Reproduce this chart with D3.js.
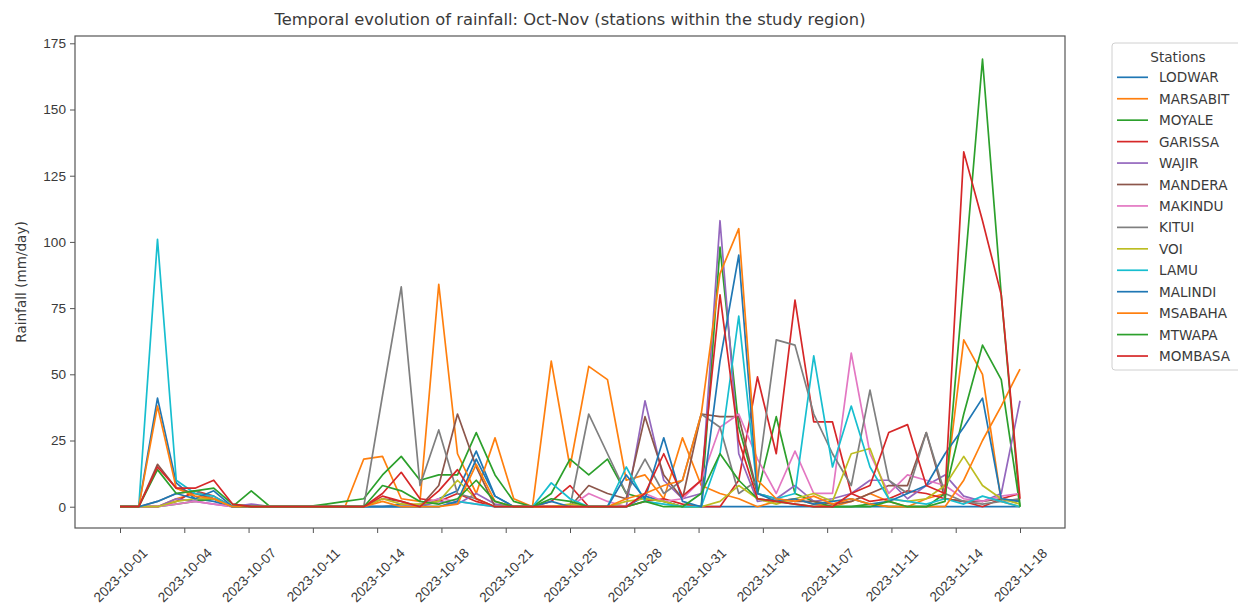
<!DOCTYPE html>
<html>
<head>
<meta charset="utf-8">
<script src="https://cdn.jsdelivr.net/npm/d3@7"></script>
<style>
  html, body { margin: 0; padding: 0; background: #fff; }
  svg { display: block; font-family: "DejaVu Sans", sans-serif; }
</style>
</head>
<body>
<svg id="chart" width="1238" height="609"></svg>
<script>
// ---------------- DATA ----------------
const dates = [
  "2023-10-01","2023-10-02","2023-10-03","2023-10-04","2023-10-05","2023-10-06","2023-10-07",
  "2023-10-08","2023-10-09","2023-10-10","2023-10-11","2023-10-12","2023-10-13","2023-10-14",
  "2023-10-15","2023-10-16","2023-10-17","2023-10-18","2023-10-19","2023-10-20","2023-10-21",
  "2023-10-22","2023-10-23","2023-10-24","2023-10-25","2023-10-26","2023-10-27","2023-10-28",
  "2023-10-29","2023-10-30","2023-10-31","2023-11-01","2023-11-02","2023-11-03","2023-11-04",
  "2023-11-05","2023-11-06","2023-11-07","2023-11-08","2023-11-09","2023-11-10","2023-11-11",
  "2023-11-12","2023-11-13","2023-11-14","2023-11-15","2023-11-16","2023-11-17","2023-11-18"
];

const stations = ["LODWAR","MARSABIT","MOYALE","GARISSA","WAJIR","MANDERA","MAKINDU",
                  "KITUI","VOI","LAMU","MALINDI","MSABAHA","MTWAPA","MOMBASA"];

const LODWAR   = [0,0,41,9,3,2,0, 0,0,0,0,0,0,0, 0,1,0,3,6,21,4, 0,0,0,0,0,0,0, 4,2,0,0,0,0,0, 0,0,0,0,0,0,0, 0,0,0,0,0,0,0];
const MARSABIT = [0,0,0,3,5,3,0, 0,0,0,0,0,0,18, 19,3,2,84,20,5,26, 3,0,55,15,53,48,10, 12,3,26,8,5,3,0, 2,3,1,0,2,5,2, 0,3,5,63,50,2,0];
const MOYALE   = [0,0,0,1,2,3,0, 6,0,0,0,1,2,3, 12,19,10,12,12,28,12, 2,0,5,18,12,18,5, 3,2,0,0,98,30,5, 34,5,2,0,0,1,0, 0,0,5,35,61,48,0];
const GARISSA  = [0,0,0,2,6,4,0, 0,0,0,0,0,0,0, 5,13,3,2,5,2,0, 0,0,2,8,0,0,0, 2,3,1,0,0,10,49, 20,78,32,32,5,2,3, 6,5,3,2,0,3,5];
const WAJIR    = [0,0,0,3,2,1,0, 1,0,0,0,0,0,0, 0,0,0,2,1,5,1, 0,0,0,0,0,0,0, 40,10,3,5,108,20,2, 3,8,2,3,5,10,10, 3,8,12,4,2,5,40];
const MANDERA  = [0,0,16,7,5,3,0, 0,0,0,0,0,0,0, 3,2,0,8,35,15,0, 0,0,0,0,8,5,3, 34,12,3,35,34,34,5, 3,2,2,1,2,5,8, 8,28,3,2,2,3,2];
const MAKINDU  = [0,0,0,1,2,1,0, 0,0,0,0,0,0,0, 0,0,1,3,2,1,0, 0,0,0,0,5,2,0, 5,2,3,10,30,35,18, 5,21,5,5,58,20,5, 12,10,8,3,2,4,5];
const KITUI    = [0,0,2,5,6,3,0, 0,0,0,0,0,0,0, 42,83,8,29,5,3,0, 0,0,0,0,35,20,5, 18,5,10,35,30,5,10, 63,61,35,20,8,44,10, 5,28,5,2,1,2,3];
const VOI      = [0,0,0,2,3,3,0, 0,0,0,0,0,0,0, 3,1,1,2,10,3,0, 0,0,0,1,0,0,2, 3,2,0,0,2,8,3, 1,3,5,2,20,22,3, 2,3,8,19,8,3,1];
const LAMU     = [0,0,101,10,5,4,0, 0,0,0,0,0,0,0, 0,0,0,0,2,1,0, 0,0,9,3,0,0,15, 2,1,0,0,20,72,5, 3,5,57,15,38,15,3, 2,1,3,1,4,2,0];
const MALINDI  = [0,0,2,5,3,6,0, 0,0,0,0,0,0,0, 0,0,0,0,2,18,4, 0,0,2,0,0,0,12, 3,26,2,0,55,95,5, 2,3,1,2,3,1,2, 5,8,20,30,41,3,2];
const MSABAHA  = [0,0,38,7,4,3,0, 0,0,0,0,0,0,0, 2,0,0,0,1,16,2, 0,0,0,0,0,0,3, 5,8,10,35,88,105,10, 3,2,4,1,3,1,0, 0,0,0,10,25,38,52];
const MTWAPA   = [0,0,14,5,6,7,1, 0,0,0,0,0,0,0, 8,6,2,1,3,10,2, 0,0,3,2,0,0,0, 2,0,0,5,20,10,3, 2,1,0,0,0,0,2, 0,0,2,85,169,80,0];
const MOMBASA  = [0,0,15,7,7,10,1, 0,0,0,0,0,0,0, 4,2,0,6,14,3,0, 0,0,0,0,0,0,0, 5,20,4,10,80,25,3, 2,1,0,0,5,8,28, 31,8,5,134,108,80,3];

const seriesValues = [LODWAR, MARSABIT, MOYALE, GARISSA, WAJIR, MANDERA, MAKINDU,
                      KITUI, VOI, LAMU, MALINDI, MSABAHA, MTWAPA, MOMBASA];

const tickLabels = ["2023-10-01","2023-10-04","2023-10-07","2023-10-11","2023-10-14",
                    "2023-10-18","2023-10-21","2023-10-25","2023-10-28","2023-10-31",
                    "2023-11-04","2023-11-07","2023-11-11","2023-11-14","2023-11-18"];
const yTicks = [0, 25, 50, 75, 100, 125, 150, 175];

const palette = ["#1f77b4","#ff7f0e","#2ca02c","#d62728","#9467bd",
                 "#8c564b","#e377c2","#7f7f7f","#bcbd22","#17becf"];

// ---------------- CHART ----------------
const svg = d3.select("#chart");
const M = {left: 75, right: 1065, top: 36, bottom: 528};
const FS = 13.6;

const parse = d3.utcParse("%Y-%m-%d");
const dateObjs = dates.map(parse);
const t0 = dateObjs[0], t1 = dateObjs[dateObjs.length - 1];
const span = t1 - t0;
const x = d3.scaleUtc()
  .domain([new Date(+t0 - span * 0.05), new Date(+t1 + span * 0.05)])
  .range([M.left, M.right]);
const y = d3.scaleLinear().domain([-8.04, 177.76]).range([M.bottom, M.top]);

// tick positions: evenly spaced across the data range
const tickVals = tickLabels.map((_, i) => new Date(+t0 + span * i / (tickLabels.length - 1)));

// lines
const line = d3.line().x((d, i) => x(dateObjs[i])).y(d => y(d));
const g = svg.append("g");
stations.forEach((s, k) => {
  g.append("path")
    .datum(seriesValues[k])
    .attr("d", line)
    .attr("fill", "none")
    .attr("stroke", palette[k % 10])
    .attr("stroke-width", 1.7)
    .attr("stroke-linejoin", "round");
});

// frame
svg.append("rect")
  .attr("x", M.left).attr("y", M.top)
  .attr("width", M.right - M.left).attr("height", M.bottom - M.top)
  .attr("fill", "none").attr("stroke", "#555").attr("stroke-width", 1.2);

// x axis
const xAxis = d3.axisBottom(x).tickValues(tickVals)
  .tickFormat((d, i) => tickLabels[i]).tickSize(5).tickPadding(3);
const gx = svg.append("g").attr("transform", `translate(0,${M.bottom})`).call(xAxis);
gx.select(".domain").remove();
gx.selectAll(".tick line").attr("stroke", "#555");
gx.selectAll(".tick text")
  .attr("font-size", FS).attr("fill", "#3a3a3a")
  .attr("text-anchor", "middle")
  .attr("dy", "0.35em")
  .attr("x", 0).attr("y", 0)
  .attr("transform", "translate(0,47) rotate(-45)");

// y axis
const yAxis = d3.axisLeft(y).tickValues(yTicks).tickSize(5).tickPadding(4);
const gy = svg.append("g").attr("transform", `translate(${M.left},0)`).call(yAxis);
gy.select(".domain").remove();
gy.selectAll(".tick line").attr("stroke", "#555");
gy.selectAll(".tick text").attr("font-size", FS).attr("fill", "#3a3a3a");

// title
svg.append("text")
  .attr("x", (M.left + M.right) / 2).attr("y", 25)
  .attr("text-anchor", "middle").attr("font-size", FS * 1.2).attr("fill", "#3a3a3a")
  .text("Temporal evolution of rainfall: Oct-Nov (stations within the study region)");

// y label
svg.append("text")
  .attr("transform", `translate(26,${(M.top + M.bottom) / 2}) rotate(-90)`)
  .attr("text-anchor", "middle").attr("font-size", FS).attr("fill", "#3a3a3a")
  .text("Rainfall  (mm/day)");

// legend
const lg = svg.append("g");
lg.append("rect").attr("x", 1112).attr("y", 43).attr("width", 140).attr("height", 327)
  .attr("rx", 3).attr("fill", "#fff").attr("stroke", "#d0d0d0");
lg.append("text").attr("x", 1178).attr("y", 62).attr("text-anchor", "middle")
  .attr("font-size", FS).attr("fill", "#3a3a3a").text("Stations");
stations.forEach((s, k) => {
  const yy = 77.3 + k * 21.44;
  lg.append("line").attr("x1", 1117).attr("x2", 1148).attr("y1", yy).attr("y2", yy)
    .attr("stroke", palette[k % 10]).attr("stroke-width", 1.7);
  lg.append("text").attr("x", 1159).attr("y", yy + 5).attr("font-size", FS)
    .attr("fill", "#3a3a3a").text(s);
});
</script>
</body>
</html>
